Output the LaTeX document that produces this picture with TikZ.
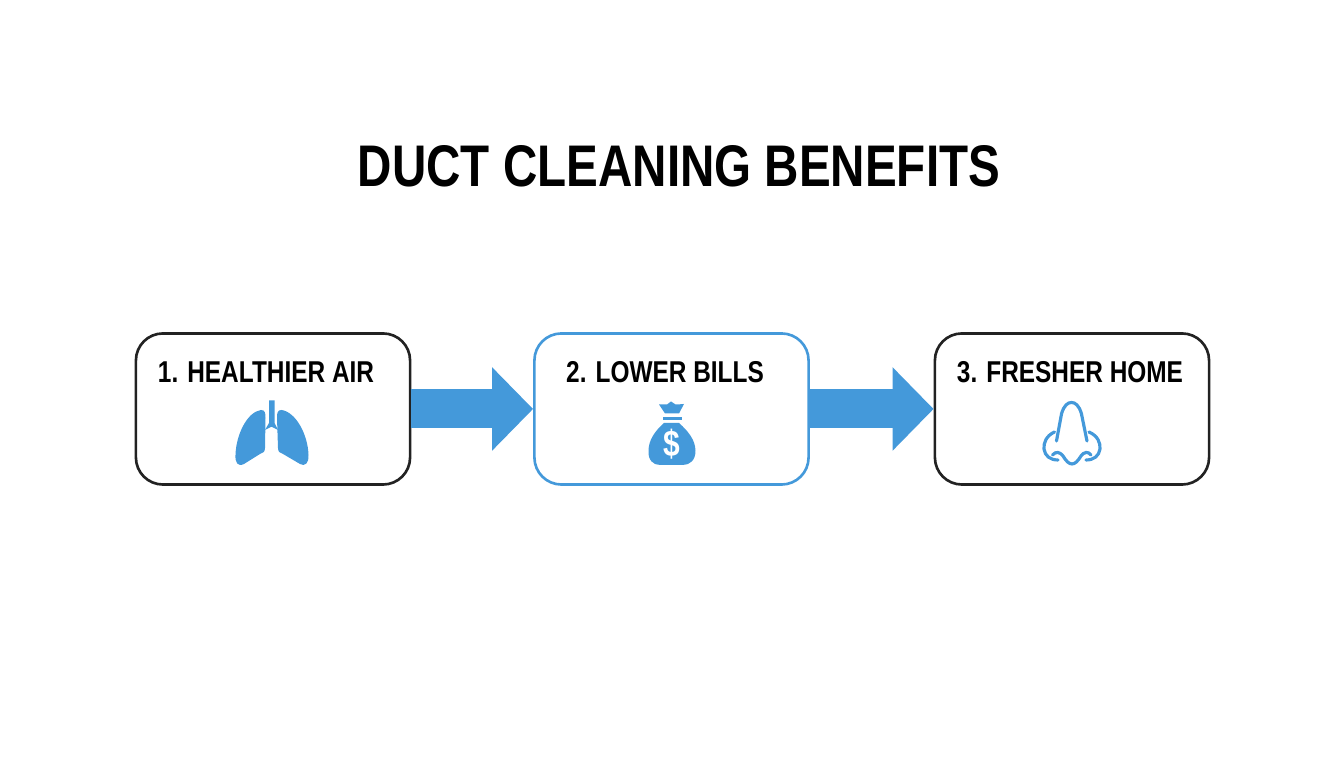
\documentclass[tikz,border=0pt]{standalone}
\usepackage{fontspec}
\newfontfamily\titlefont[FakeStretch=0.81]{Liberation Sans Bold}
\usetikzlibrary{arrows.meta}
\definecolor{ductblue}{HTML}{4499DA}
\definecolor{boxblack}{HTML}{222222}
\tikzset{
    benefit/.style={draw=boxblack,line width=0.75pt,rounded corners=0.27cm,minimum width=2.74cm,minimum height=1.51cm,inner sep=0pt},
    benefitblue/.style={benefit,draw=ductblue},
    steplabel/.style={font=\titlefont\fontsize{8.57}{10}\selectfont,text=black},
    flow/.style={ductblue,line width=0.39cm,-{Triangle[length=0.41cm,width=0.81cm]}},
    iconfill/.style={fill=ductblue,draw=none},
    iconline/.style={draw=ductblue,line width=0.9pt,line cap=round,fill=none}
}
\begin{document}
\begin{tikzpicture}[x=0.01cm,y=-0.01cm]
    \useasboundingbox (0,0) rectangle (1344,768);

    \node[font=\titlefont\fontsize{16.7}{20}\selectfont] (title) at (679,166) {DUCT CLEANING BENEFITS};

    \node[benefit] (air) at (273,409) {};
    \node[benefitblue] (bills) at (671.5,409) {};
    \node[benefit] (home) at (1072,409) {};

    \node[steplabel] (airlabel) at (266,372.5) {1. HEALTHIER AIR};
    \node[steplabel] (billslabel) at (665,372.5) {2. LOWER BILLS};
    \node[steplabel] (homelabel) at (1070,372.5) {3. FRESHER HOME};

    \draw[flow] (air.east) -- (bills.west);
    \draw[flow] (bills.east) -- (home.west);

    % lungs
    \fill[iconfill] (269,400.5) -- (274.5,400.5) -- (274.5,423) -- (278,430) -- (272,427) -- (271,427) -- (265,430) -- (269,423) -- cycle;
    \fill[iconfill] (261,410) .. controls (265,410) and (265.5,413) .. (265.5,418) -- (265,448) .. controls (265,452) and (263,453) .. (260,454) -- (244,464) .. controls (238,467) and (235,463) .. (235.5,455) .. controls (236,435) and (247,412) .. (261,410) -- cycle;
    \fill[iconfill] (281.5,410) .. controls (277.5,410) and (277,413) .. (277,418) -- (278,448) .. controls (278,452) and (280,453) .. (283,454) -- (300,464) .. controls (305,467) and (309,463) .. (308.5,455) .. controls (308,435) and (296,412) .. (281.5,410) -- cycle;

    % money bag
    \fill[iconfill] (659,404.5) .. controls (663,404) and (665,405) .. (667,404.5) -- (671,401.5) -- (675.5,404.5) .. controls (678,405) and (680,404) .. (684,404) -- (679,413.5) -- (665,413.5) -- cycle;
    \fill[iconfill] (662.5,417.5) rectangle (681.5,420.5);
    \fill[iconfill] (664,423) -- (679,423) .. controls (688,431) and (695.5,440) .. (695.5,451) .. controls (695.5,460) and (690,465) .. (683,465) -- (660,465) .. controls (653,465) and (648,460) .. (648.5,451) .. controls (648.5,440) and (655,431) .. (664,423) -- cycle;
    \node[font=\titlefont\fontsize{10.5}{12}\selectfont,text=white,inner sep=0pt] (dollar) at (672,444) {\$};

    % nose
    \draw[iconline] (1056.5,441) -- (1061.5,414) .. controls (1064,405) and (1068,402.5) .. (1071.5,402.5) .. controls (1075,402.5) and (1079,405) .. (1081.5,414) -- (1087,441);
    \draw[iconline] (1054.5,432) .. controls (1046,436) and (1043.5,443) .. (1044,449) .. controls (1045,456) and (1050,460) .. (1058,460);
    \draw[iconline] (1089,432) .. controls (1098,436) and (1100.5,443) .. (1100,449) .. controls (1099,456) and (1094,460) .. (1086,460);
    \draw[iconline] (1052.5,455) .. controls (1056,451) and (1060,452) .. (1063,456) .. controls (1066,461) and (1069,464) .. (1072,464) .. controls (1075,464) and (1078,461) .. (1081,456) .. controls (1084,452) and (1088,451) .. (1091,455);
\end{tikzpicture}
\end{document}
